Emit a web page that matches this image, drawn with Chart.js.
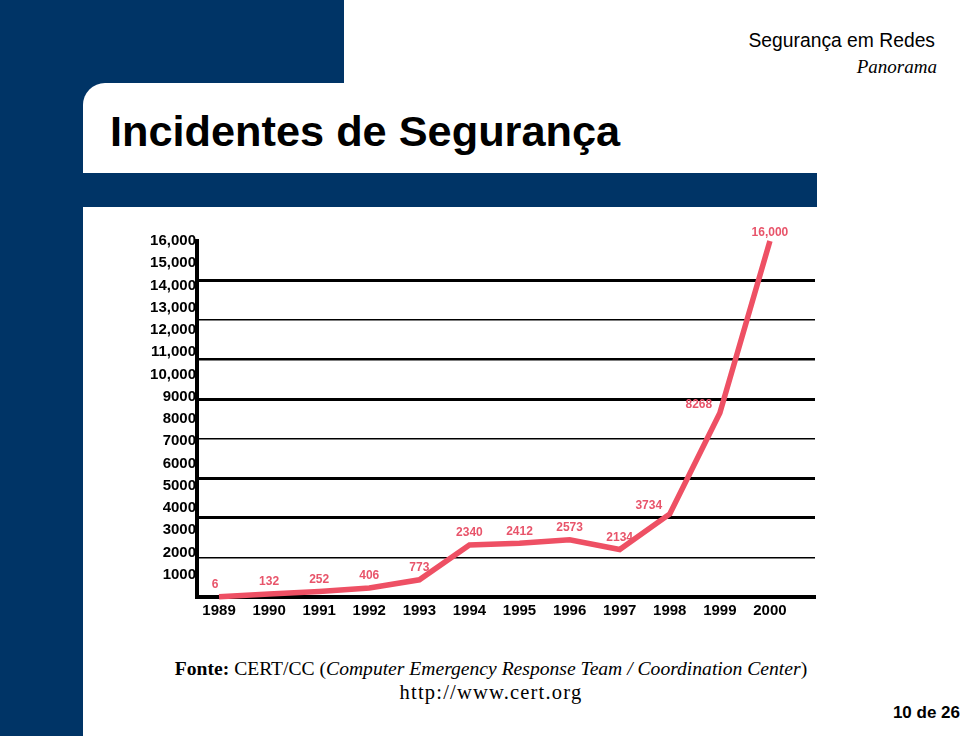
<!DOCTYPE html>
<html>
<head>
<meta charset="utf-8">
<script src="https://cdn.jsdelivr.net/npm/chart.js@4.4.1/dist/chart.umd.min.js"></script>
<style>
  html, body { margin: 0; padding: 0; background: #ffffff; }
  #slide { position: relative; width: 960px; height: 741px; overflow: hidden; background: #fff; }
  .blue { position: absolute; background: #003466; }
  #title { position: absolute; left: 110px; top: 107px; font: bold 43.3px "Liberation Sans", Arial, sans-serif; color: #000; white-space: nowrap; }
  #hdr1 { position: absolute; right: 25px; top: 30px; font: 19.3px "Liberation Sans", Arial, sans-serif; color: #000; white-space: nowrap; }
  #hdr2 { position: absolute; right: 23px; top: 56px; font: italic 19px "Liberation Serif", "Times New Roman", serif; color: #000; white-space: nowrap; }
  #foot1 { position: absolute; left: 0; width: 982px; text-align: center; top: 658px; font: 19.6px "Liberation Serif", "Times New Roman", serif; color: #000; white-space: nowrap; }
  #foot2 { position: absolute; left: 0; width: 982px; text-align: center; top: 681px; font: 20.5px "Liberation Serif", "Times New Roman", serif; letter-spacing: 1.2px; color: #000; white-space: nowrap; }
  #page { position: absolute; right: 0px; top: 703px; font: bold 17px "Liberation Sans", Arial, sans-serif; color: #000; white-space: nowrap; }
  #chartWrap { position: absolute; left: 130px; top: 220px; width: 700px; height: 420px; }
</style>
</head>
<body>
<div id="slide">
  <div class="blue" style="left:0;top:0;width:344px;height:83px;"></div>
  <div class="blue" style="left:0;top:0;width:83px;height:736px;"></div>
  <div class="blue" style="left:83px;top:83px;width:30px;height:30px;"></div>
  <div style="position:absolute;left:83px;top:83px;width:300px;height:90px;background:#fff;border-top-left-radius:22px;"></div>
  <div class="blue" style="left:83px;top:173px;width:734px;height:34px;"></div>
  <div id="title">Incidentes de Segurança</div>
  <div id="hdr1">Segurança em Redes</div>
  <div id="hdr2">Panorama</div>
  <div id="foot1"><b>Fonte:</b> CERT/CC (<i>Computer Emergency Response Team / Coordination Center</i>)</div>
  <div id="foot2">http://www.cert.org</div>
  <div id="page">10 de 26</div>
  <div id="chartWrap"><canvas id="c" width="700" height="420"></canvas></div>
</div>
<script>
// ---- data ----
const years = [1989, 1990, 1991, 1992, 1993, 1994, 1995, 1996, 1997, 1998, 1999, 2000];
const incidents = [6, 132, 252, 406, 773, 2340, 2412, 2573, 2134, 3734, 8268, 16000];
const incidentLabels = ['6', '132', '252', '406', '773', '2340', '2412', '2573', '2134', '3734', '8268', '16,000'];
const yTickMin = 0, yTickMax = 16000, yTickStep = 1000;

const LINE = '#ee5064';
const LABEL = '#e8546a';

const valueLabels = {
  id: 'valueLabels',
  afterDatasetsDraw(chart) {
    const ctx = chart.ctx;
    const meta = chart.getDatasetMeta(0);
    ctx.save();
    ctx.font = 'bold 12px "Liberation Sans", Arial, sans-serif';
    ctx.fillStyle = LABEL;
    ctx.textAlign = 'center';
    ctx.textBaseline = 'middle';
    meta.data.forEach((pt, i) => {
      const v = incidents[i];
      const next = incidents[i + 1];
      let dx = 0, dy = -12;
      if (next !== undefined && next - v > 1600) { dx = -21; dy = -8; }
      if (next === undefined) { dy = -8; }
      if (i === 0) dx = -4;
      ctx.fillText(incidentLabels[i], pt.x + dx, pt.y + dy);
    });
    ctx.restore();
  }
};

const gridWidths = [0, 1.5, 3, 3, 1.5, 3, 2.5, 1.5, 3, 0];

new Chart(document.getElementById('c'), {
  type: 'line',
  data: {
    datasets: [{
      data: years.map((y, i) => ({ x: y, y: incidents[i] })),
      borderColor: LINE,
      backgroundColor: LINE,
      borderWidth: 5.5,
      pointRadius: 0,
      tension: 0,
      clip: false
    }]
  },
  options: {
    responsive: false,
    animation: false,
    events: [],
    layout: { padding: { left: 0, right: 15, top: 21, bottom: 13 } },
    plugins: { legend: { display: false }, tooltip: { enabled: false } },
    scales: {
      x: {
        type: 'linear',
        min: 1988.56,
        max: 2000.9,
        grid: { display: false, drawTicks: false },
        border: { display: true, color: '#000', width: 4 },
        ticks: {
          stepSize: 1,
          includeBounds: false,
          padding: 5,
          color: '#000',
          font: { family: '"Liberation Sans", Arial, sans-serif', size: 15, weight: 'bold' },
          callback: (v) => String(v)
        },
        afterFit: (s) => { s.height = 30; }
      },
      y: {
        type: 'linear',
        position: 'left',
        min: yTickMin,
        max: yTickMax,
        grid: { display: false, drawTicks: false },
        border: { display: true, color: '#000', width: 4 },
        ticks: {
          stepSize: yTickStep,
          padding: 1,
          color: '#000',
          font: { family: '"Liberation Sans", Arial, sans-serif', size: 15, weight: 'bold' },
          callback: (v) => v === 0 ? '' : (v >= 10000 ? v.toLocaleString('en-US') : String(v))
        },
        afterFit: (s) => { s.width = 67; }
      },
      yGrid: {
        type: 'linear',
        position: 'right',
        min: 0,
        max: 9,
        ticks: { display: false, stepSize: 1 },
        border: { display: false },
        grid: {
          drawTicks: false,
          color: '#000',
          lineWidth: (c) => gridWidths[c.index] ?? 0
        },
        afterFit: (s) => { s.width = 0; }
      }
    }
  },
  plugins: [valueLabels]
});
</script>
</body>
</html>
